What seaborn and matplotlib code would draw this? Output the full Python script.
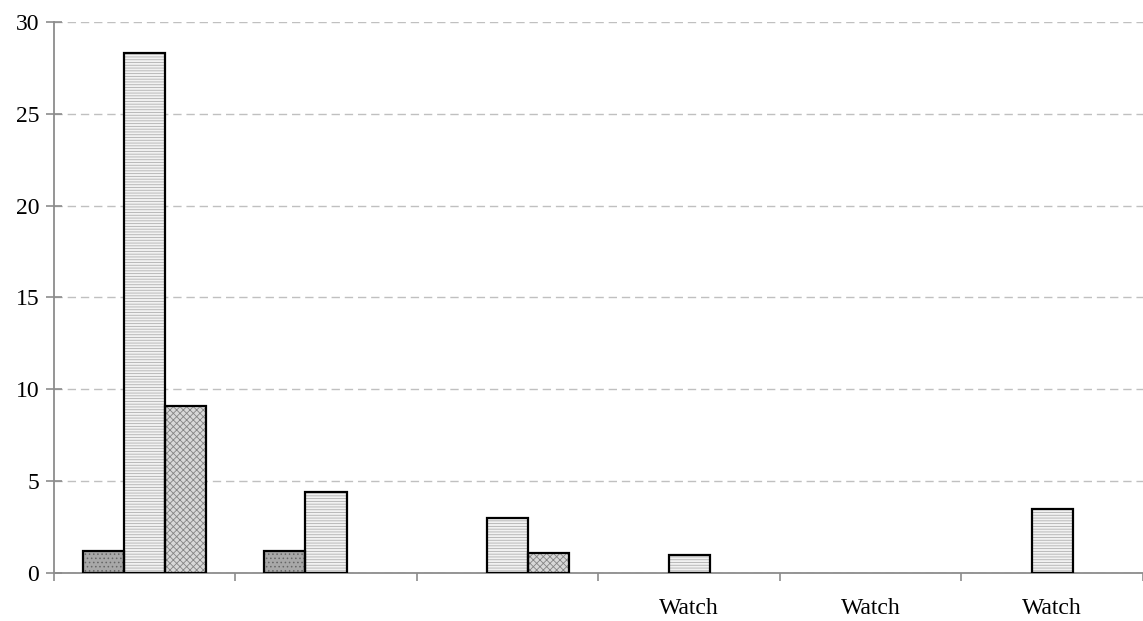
#!/usr/bin/env python3
import pandas as pd
import matplotlib
matplotlib.use("Agg")
import matplotlib.pyplot as plt
import seaborn as sns
from matplotlib.patches import Rectangle

# ---------------------------
# DATA
# ---------------------------
CATEGORIES = ["", " ", "  ", "Watch", "Watch ", "Watch  "]
TICK_LABELS = ["", "", "", "Watch", "Watch", "Watch"]
SERIES = ["S1", "S2", "S3"]
S1_VALUES = [1.2, 1.2, 0.0, 0.0, 0.0, 0.0]
S2_VALUES = [28.3, 4.4, 3.0, 1.0, 0.0, 3.5]
S3_VALUES = [9.1, 0.0, 1.1, 0.0, 0.0, 0.0]

# fill, hatch pattern, hatch colour per series
STYLES = {
    "S1": ("#a8a8a8", "....", "#666666"),
    "S2": ("#f2f2f2", "------", "#b0b0b0"),
    "S3": ("#d8d8d8", "xxxxx", "#858585"),
}


def main():
    sns.set_theme(style="white")
    plt.rcParams["font.family"] = ["Liberation Serif", "DejaVu Serif"]
    plt.rcParams["hatch.linewidth"] = 0.6

    rows = []
    for name, vals in zip(SERIES, [S1_VALUES, S2_VALUES, S3_VALUES]):
        for cat, v in zip(CATEGORIES, vals):
            rows.append({"cat": cat, "series": name, "value": v})
    df = pd.DataFrame(rows)

    fig = plt.figure(figsize=(11.43, 6.21), dpi=100)
    ax = fig.add_axes([0.047, 0.0773, 0.953, 0.8873])

    sns.barplot(data=df, x="cat", y="value", hue="series", order=CATEGORIES,
                hue_order=SERIES, width=0.68, errorbar=None, legend=False,
                ax=ax, zorder=2)

    # hatch colour follows edgecolor, so hatch the bars and draw outlines on top
    for name, cont in zip(SERIES, ax.containers):
        face, hatch, hcol = STYLES[name]
        for bar in cont:
            bar.set_facecolor(face)
            bar.set_hatch(hatch)
            bar.set_edgecolor(hcol)
            bar.set_linewidth(0)
            if bar.get_height() > 0:
                ax.add_patch(Rectangle((bar.get_x(), bar.get_y()), bar.get_width(),
                                       bar.get_height(), fill=False, edgecolor="black",
                                       linewidth=1.6, zorder=3))

    n = len(CATEGORIES)
    ax.set_xlim(-0.5, n - 0.5)
    ax.set_ylim(0, 30)
    ax.set_yticks([0, 5, 10, 15, 20, 25, 30])
    ax.set_xticks(range(n))
    ax.set_xticklabels(TICK_LABELS)
    ax.set_xticks([i - 0.5 for i in range(n + 1)], minor=True)
    ax.set_xlabel("")
    ax.set_ylabel("")

    ax.yaxis.grid(True, linestyle=(0, (6, 3.5)), color="#c0c0c0", linewidth=1)
    ax.set_axisbelow(True)

    for side in ["top", "right"]:
        ax.spines[side].set_visible(False)
    for side in ["left", "bottom"]:
        ax.spines[side].set_color("#8c8c8c")
        ax.spines[side].set_linewidth(1.3)

    ax.tick_params(axis="y", which="major", left=True, direction="inout",
                   length=11, width=1.2, color="#8c8c8c", labelsize=17,
                   labelcolor="black", pad=5)
    ax.tick_params(axis="x", which="major", bottom=False, length=0,
                   labelsize=17, labelcolor="black", pad=18)
    ax.tick_params(axis="x", which="minor", bottom=True, direction="out",
                   length=5.5, width=1.2, color="#8c8c8c")

    fig.savefig("out.png", dpi=100)
    plt.close(fig)


if __name__ == "__main__":
    main()
